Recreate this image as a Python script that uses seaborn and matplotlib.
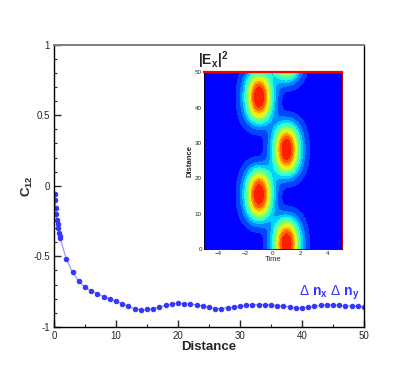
import numpy as np
import seaborn as sns
import matplotlib.pyplot as plt
from matplotlib.ticker import MultipleLocator

# correlation curve C12 versus distance
dist = [0.1, 0.2, 0.3, 0.4, 0.5, 0.6, 0.7, 0.8, 0.9, 1.0] + list(range(2, 51))
c12 = [-0.055, -0.103, -0.155, -0.200, -0.240, -0.273, -0.302, -0.333, -0.353, -0.373,
       -0.519, -0.613, -0.675, -0.719, -0.743, -0.764, -0.785, -0.804, -0.818, -0.835,
       -0.854, -0.870, -0.880, -0.876,
       -0.870, -0.861, -0.846, -0.837, -0.832, -0.835, -0.837, -0.844, -0.851, -0.861,
       -0.870, -0.870, -0.863, -0.861, -0.854, -0.846, -0.842, -0.842, -0.842, -0.844,
       -0.849, -0.853, -0.858, -0.865, -0.865, -0.861, -0.854, -0.846, -0.844, -0.844,
       -0.846, -0.849, -0.853, -0.855, -0.858]

# inset |Ex|^2 : pulse peaks (time, distance)
peak_time = [-1, -1, 1, 1, 1]
peak_dist = [15.5, 43.0, 1.5, 28.2, 55.3]
# profile of one pulse along distance and along time (offset from peak)
z_offset = [0, 1, 2, 3, 4, 5, 6, 7, 8, 9, 10, 11, 12, 13]
z_value = [1.0, 0.98, 0.93, 0.85, 0.74, 0.61, 0.47, 0.34, 0.22, 0.13, 0.07, 0.03, 0.01, 0.0]
t_offset = [0, 0.25, 0.5, 0.75, 1.0, 1.25, 1.5, 1.75, 2.0]
t_value = [1.0, 0.92, 0.73, 0.50, 0.30, 0.16, 0.07, 0.025, 0.0]

levels = [-0.5, 0.04, 0.12, 0.20, 0.28, 0.36, 0.44, 0.52, 0.60, 0.68, 0.76, 0.86, 2.0]

sns.set_style('ticks')
plt.rcParams['font.family'] = ['Liberation Sans', 'DejaVu Sans']
plt.rcParams['mathtext.fontset'] = 'custom'
plt.rcParams['mathtext.rm'] = 'Liberation Sans'
plt.rcParams['mathtext.it'] = 'Liberation Sans:italic'
plt.rcParams['mathtext.bf'] = 'Liberation Sans:bold'

fig = plt.figure(figsize=(4.15, 3.69), dpi=100)
ax = fig.add_axes([0.130, 0.114, 0.747, 0.765])

sns.lineplot(x=dist, y=c12, ax=ax, sort=False, color='#8c8cff', linewidth=0.8,
             marker='o', markersize=3.2, markerfacecolor='#3535ff',
             markeredgecolor='#3535ff')
ax.set_xlim(0, 50)
ax.set_ylim(-1, 1)
ax.set_xticks([0, 10, 20, 30, 40, 50])
ax.xaxis.set_minor_locator(MultipleLocator(5))
ax.set_yticks([-1, -0.5, 0, 0.5, 1])
ax.set_yticklabels(['-1', '-0.5', '0', '0.5', '1'])
ax.yaxis.set_minor_locator(MultipleLocator(0.1))
ax.tick_params(which='major', direction='in', length=5, width=1, labelsize=7, pad=3)
ax.tick_params(which='minor', direction='in', length=2.5, width=0.8)
ax.set_xlabel('')
ax.set_ylabel('')
for s in ['left', 'bottom', 'right']:
    ax.spines[s].set_color('black')
    ax.spines[s].set_linewidth(1.0)
ax.spines['top'].set_color('#808080')
ax.spines['top'].set_linewidth(1.4)

ax.text(0.5, -0.071, 'Distance', transform=ax.transAxes, ha='center', va='center',
        fontsize=9.5, fontweight='bold')
fig.text(27 / 415, 1 - 186 / 369, r'C$_{\mathbf{12}}$', rotation=90, ha='center',
         va='center', fontsize=9.5, fontweight='bold')
ax.text(39.5, -0.76, r'$\Delta$ n$_{\mathbf{x}}$ $\Delta$ n$_{\mathbf{y}}$', color='#3535ff',
        ha='left', va='center', fontsize=10, fontweight='bold')

# inset
axi = fig.add_axes([0.4916, 0.3244, 0.3313, 0.4797])
tt = np.linspace(-5, 5, 201)
zz = np.linspace(0, 50, 201)
T, Z = np.meshgrid(tt, zz)
field = np.zeros_like(T)
for tc, zc in zip(peak_time, peak_dist):
    field += (np.interp(np.abs(Z - zc), z_offset, z_value)
              * np.interp(np.abs(T - tc), t_offset, t_value))
jet = plt.get_cmap('jet')
band_colors = [jet(v) for v in np.linspace(0.125, 0.875, len(levels) - 1)]
axi.contourf(T, Z, field, levels=levels, colors=band_colors)
axi.set_xlim(-5, 5)
axi.set_ylim(0, 50)
axi.set_xticks([-4, -2, 0, 2, 4])
axi.xaxis.set_minor_locator(MultipleLocator(0.5))
axi.set_yticks([0, 10, 20, 30, 40, 50])
axi.yaxis.set_minor_locator(MultipleLocator(2))
axi.tick_params(which='major', direction='in', length=3, width=0.7, labelsize=4.5, pad=1.5)
axi.tick_params(which='minor', direction='in', length=1.5, width=0.5)
axi.set_xlabel('Time', fontsize=5.5, labelpad=0)
axi.set_ylabel('Distance', fontsize=5.5, fontweight='bold', labelpad=1)
for s in ['left', 'bottom']:
    axi.spines[s].set_color('black')
    axi.spines[s].set_linewidth(0.6)
axi.spines['top'].set_color('red')
axi.spines['top'].set_linewidth(1.6)
axi.spines['right'].set_color('#c00000')
axi.spines['right'].set_linewidth(0.7)
fig.text(198 / 415, 1 - 65 / 369, r'|E$_{\mathbf{x}}$|$^{\mathbf{2}}$', ha='left',
         va='baseline', fontsize=10, fontweight='bold')

fig.savefig('out.png', dpi=100)
